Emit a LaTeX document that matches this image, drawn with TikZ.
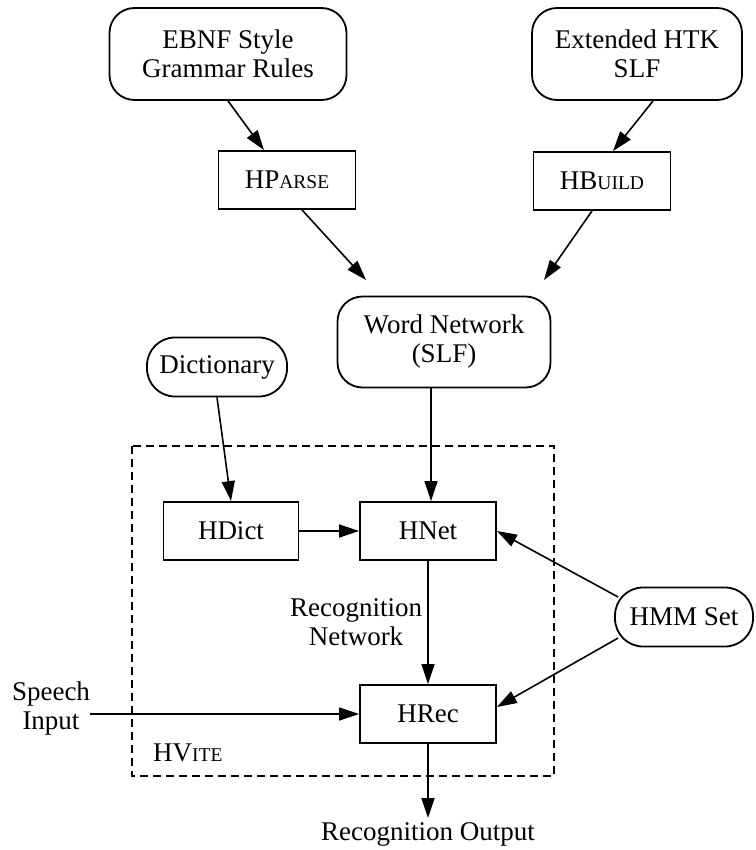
\documentclass[tikz,border=0pt]{standalone}
\usepackage{fontspec}
\setmainfont{Liberation Serif}
\usetikzlibrary{arrows.meta,calc}
\newcommand\smcap[1]{{\fontsize{19.5}{20}\selectfont #1}}
\begin{document}
\begin{tikzpicture}[x=1pt,y=-1pt, font=\fontsize{27}{29}\selectfont,
 rbox/.style={draw, line width=1.8pt, rounded corners=25pt, align=center, inner sep=0pt},
 sbox/.style={draw, line width=1.8pt, align=center, inner sep=0pt, minimum width=136pt, minimum height=58pt},
 arr/.style={line width=1.6pt, -{Triangle[length=20pt,width=13pt]}},
 lbl/.style={align=center, inner sep=0pt},
 frame/.style={line width=1.2pt, dash pattern=on 8pt off 5pt}]
\useasboundingbox (0,0) rectangle (755,850);

\draw[frame] (132,446) rectangle (554,776);

\node[rbox, minimum width=237pt, minimum height=92pt] (ebnf) at (228,54) {EBNF Style\\Grammar Rules};
\node[sbox, minimum width=137pt] (hparse) at (287,180) {HP\smcap{ARSE}};
\node[rbox, minimum width=210pt, minimum height=92pt] (ext) at (637,54) {Extended HTK\\SLF};
\node[sbox, minimum width=137pt] (hbuild) at (602,181) {HB\smcap{UILD}};
\node[rbox, minimum width=213pt, minimum height=91pt] (wordnet) at (444,342) {Word Network\\(SLF)};
\node[rbox, rounded corners=28pt, minimum width=140pt, minimum height=59pt] (dict) at (217,367) {Dictionary};
\node[sbox, minimum width=135pt] (hdict) at (231,531) {HDict};
\node[sbox] (hnet) at (428,531) {HNet};
\node[sbox] (hrec) at (428,714) {HRec};
\node[rbox, rounded corners=28pt, minimum width=138pt, minimum height=59pt] (hmm) at (684,617) {HMM Set};
\node[lbl] (recnet) at (356,622) {Recognition\\Network};
\node[lbl] (speech) at (51,708) {Speech\\Input};
\node[lbl, anchor=west] (hvite) at (153,753) {HV\smcap{ITE}};
\node[lbl] (out) at (428,834) {Recognition Output};

\coordinate (wnl) at (366,280);
\coordinate (wnr) at (544,280);
\coordinate (outtop) at (428,818);

\draw[arr] (ebnf.south) -- ($(hparse.north)+(-23,0)$);
\draw[arr] ($(hparse.south)+(15,0)$) -- (wnl);
\draw[arr] ($(ext.south)+(16,0)$) -- ($(hbuild.north)+(11,0)$);
\draw[arr] ($(hbuild.south)+(-10,0)$) -- (wnr);
\draw[arr] (dict.south) -- (hdict.north);
\draw[arr] ($(wordnet.south)+(-13,0)$) -- ($(hnet.north)+(3,0)$);
\draw[arr] (hdict.east) -- (hnet.west);
\draw[arr] ($(hmm.west)+(4,-20)$) -- (hnet.east);
\draw[arr] ($(hmm.west)+(4,21)$) -- ($(hrec.east)+(0,-7)$);
\draw[arr] (hnet.south) -- (hrec.north);
\draw[arr] (speech.east |- hrec.west) -- (hrec.west);
\draw[arr] (hrec.south) -- (outtop);
\end{tikzpicture}
\end{document}
